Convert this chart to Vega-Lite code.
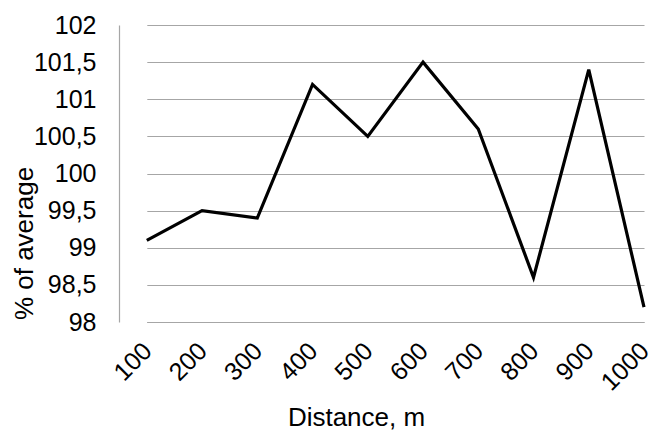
{
  "$schema": "https://vega.github.io/schema/vega-lite/v6.json",
  "autosize": {"type": "none"},
  "padding": {"left": 119, "top": 25, "right": 0, "bottom": 108},
  "width": 543,
  "height": 297,
  "background": "white",
  "data": {"values": [
    {"distance": "100", "pct": 99.1},
    {"distance": "200", "pct": 99.5},
    {"distance": "300", "pct": 99.4},
    {"distance": "400", "pct": 101.2},
    {"distance": "500", "pct": 100.5},
    {"distance": "600", "pct": 101.5},
    {"distance": "700", "pct": 100.6},
    {"distance": "800", "pct": 98.6},
    {"distance": "900", "pct": 101.4},
    {"distance": "1000", "pct": 98.2}
  ]},
  "mark": {"type": "line", "color": "black", "strokeWidth": 3.2, "strokeJoin": "miter"},
  "encoding": {
    "x": {
      "field": "distance", "type": "ordinal", "sort": null,
      "scale": {"type": "point", "range": [27.8, 525], "padding": 0},
      "axis": {
        "title": "Distance, m", "titleFont": "Liberation Sans", "titleFontSize": 26, "titleFontWeight": "normal", "titleColor": "black",
        "titleX": 237, "titleY": 103, "titleBaseline": "alphabetic", "titleAlign": "center",
        "labelAngle": -45, "labelFont": "Liberation Sans", "labelFontSize": 25, "labelColor": "black", "labelPadding": 16, "labelOffset": -8,
        "ticks": false, "domainColor": "#a6a6a6", "domainWidth": 1.2, "grid": false
      }
    },
    "y": {
      "field": "pct", "type": "quantitative",
      "scale": {"domain": [98, 102], "nice": false, "zero": false},
      "axis": {
        "title": "% of average", "titleFont": "Liberation Sans", "titleFontSize": 26, "titleFontWeight": "normal", "titleColor": "black",
        "titleX": -95, "titleY": 218, "titleAngle": -90, "titleBaseline": "middle", "titleAlign": "center",
        "values": [98, 98.5, 99, 99.5, 100, 100.5, 101, 101.5, 102],
        "labelExpr": "replace(format(datum.value, '~g'), '.', ',')",
        "labelFont": "Liberation Sans", "labelFontSize": 25, "labelColor": "black", "labelPadding": 23,
        "ticks": false, "domainColor": "#a6a6a6", "domainWidth": 1.2,
        "grid": true, "gridColor": "#a6a6a6", "gridWidth": 1.2
      }
    }
  },
  "config": {"view": {"stroke": null}}
}
